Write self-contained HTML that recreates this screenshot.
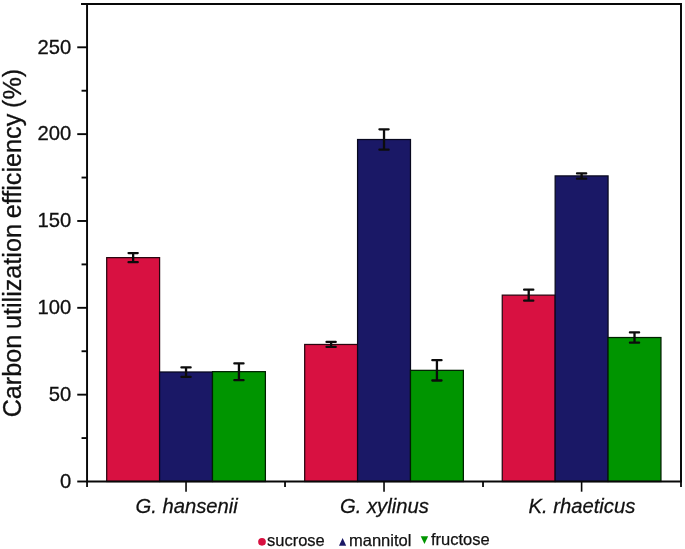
<!DOCTYPE html>
<html><head><meta charset="utf-8"><title>chart</title>
<style>
html,body{margin:0;padding:0;background:#fff;}
body{width:685px;height:549px;overflow:hidden;}
svg{display:block;}
svg text{filter:grayscale(1);}
text{font-family:"Liberation Sans",sans-serif;fill:#111;}
</style></head><body>
<svg width="685" height="549" viewBox="0 0 685 549">
<rect width="685" height="549" fill="#fff"/>

<rect x="106.69" y="257.63" width="52.90" height="223.87" fill="#D81141" stroke="#2a0610" stroke-width="1.25"/>
<rect x="159.59" y="371.99" width="52.90" height="109.51" fill="#1A1866" stroke="#08081e" stroke-width="1.25"/>
<rect x="212.49" y="371.65" width="52.90" height="109.85" fill="#009500" stroke="#002000" stroke-width="1.25"/>
<rect x="304.68" y="344.47" width="52.90" height="137.03" fill="#D81141" stroke="#2a0610" stroke-width="1.25"/>
<rect x="357.58" y="139.52" width="52.90" height="341.98" fill="#1A1866" stroke="#08081e" stroke-width="1.25"/>
<rect x="410.48" y="370.34" width="52.90" height="111.16" fill="#009500" stroke="#002000" stroke-width="1.25"/>
<rect x="502.26" y="295.14" width="52.90" height="186.36" fill="#D81141" stroke="#2a0610" stroke-width="1.25"/>
<rect x="555.16" y="175.91" width="52.90" height="305.59" fill="#1A1866" stroke="#08081e" stroke-width="1.25"/>
<rect x="608.06" y="337.52" width="52.90" height="143.98" fill="#009500" stroke="#002000" stroke-width="1.25"/>
<path d="M128.54 253.11H137.74M128.54 262.14H137.74M133.14 253.11V262.14" stroke="#0c0c0c" stroke-width="2.3" stroke-linecap="round" fill="none"/>
<path d="M181.44 367.44H190.64M181.44 376.89H190.64M186.04 367.44V376.89" stroke="#0c0c0c" stroke-width="2.3" stroke-linecap="round" fill="none"/>
<path d="M234.34 363.43H243.54M234.34 380.21H243.54M238.94 363.43V380.21" stroke="#0c0c0c" stroke-width="2.3" stroke-linecap="round" fill="none"/>
<path d="M326.53 341.97H335.73M326.53 346.97H335.73M331.13 341.97V346.97" stroke="#0c0c0c" stroke-width="2.3" stroke-linecap="round" fill="none"/>
<path d="M379.43 129.36H388.63M379.43 149.68H388.63M384.03 129.36V149.68" stroke="#0c0c0c" stroke-width="2.3" stroke-linecap="round" fill="none"/>
<path d="M432.33 360.18H441.53M432.33 380.51H441.53M436.93 360.18V380.51" stroke="#0c0c0c" stroke-width="2.3" stroke-linecap="round" fill="none"/>
<path d="M524.11 289.64H533.31M524.11 300.65H533.31M528.71 289.64V300.65" stroke="#0c0c0c" stroke-width="2.3" stroke-linecap="round" fill="none"/>
<path d="M577.01 173.43H586.21M577.01 178.64H586.21M581.61 173.43V178.64" stroke="#0c0c0c" stroke-width="2.3" stroke-linecap="round" fill="none"/>
<path d="M629.91 332.40H639.11M629.91 342.64H639.11M634.51 332.40V342.64" stroke="#0c0c0c" stroke-width="2.3" stroke-linecap="round" fill="none"/>
<path d="M87.05 4.05V481.5H681.0V4.05H81.05" fill="none" stroke="#080808" stroke-width="1.95" stroke-linejoin="miter"/>
<path d="M77.25 481.50H87.05" stroke="#080808" stroke-width="1.9"/>
<text transform="translate(71.2,487.80) scale(1,1.02)" font-size="20.2" text-anchor="end" stroke="#111" stroke-width="0.3">0</text>
<path d="M81.55 438.08H87.05" stroke="#080808" stroke-width="1.9"/>
<path d="M77.25 394.66H87.05" stroke="#080808" stroke-width="1.9"/>
<text transform="translate(71.2,400.96) scale(1,1.02)" font-size="20.2" text-anchor="end" stroke="#111" stroke-width="0.3">50</text>
<path d="M81.55 351.24H87.05" stroke="#080808" stroke-width="1.9"/>
<path d="M77.25 307.82H87.05" stroke="#080808" stroke-width="1.9"/>
<text transform="translate(71.2,314.12) scale(1,1.02)" font-size="20.2" text-anchor="end" stroke="#111" stroke-width="0.3">100</text>
<path d="M81.55 264.40H87.05" stroke="#080808" stroke-width="1.9"/>
<path d="M77.25 220.98H87.05" stroke="#080808" stroke-width="1.9"/>
<text transform="translate(71.2,227.28) scale(1,1.02)" font-size="20.2" text-anchor="end" stroke="#111" stroke-width="0.3">150</text>
<path d="M81.55 177.56H87.05" stroke="#080808" stroke-width="1.9"/>
<path d="M77.25 134.14H87.05" stroke="#080808" stroke-width="1.9"/>
<text transform="translate(71.2,140.44) scale(1,1.02)" font-size="20.2" text-anchor="end" stroke="#111" stroke-width="0.3">200</text>
<path d="M81.55 90.72H87.05" stroke="#080808" stroke-width="1.9"/>
<path d="M77.25 47.30H87.05" stroke="#080808" stroke-width="1.9"/>
<text transform="translate(71.2,53.60) scale(1,1.02)" font-size="20.2" text-anchor="end" stroke="#111" stroke-width="0.3">250</text>
<path d="M87.05 481.5V487.1" stroke="#080808" stroke-width="1.8"/>
<path d="M681.00 481.5V487.1" stroke="#080808" stroke-width="1.8"/>
<path d="M285.03 481.5V487.1" stroke="#080808" stroke-width="1.8"/>
<path d="M483.02 481.5V487.1" stroke="#080808" stroke-width="1.8"/>
<path d="M186.04 481.5V491.7" stroke="#080808" stroke-width="1.6"/>
<path d="M384.03 481.5V491.7" stroke="#080808" stroke-width="1.6"/>
<path d="M581.61 481.5V491.7" stroke="#080808" stroke-width="1.6"/>
<text transform="translate(186.64,513.4) scale(1,1.02)" font-size="20.25" font-style="italic" text-anchor="middle" stroke="#111" stroke-width="0.25">G. hansenii</text>
<text transform="translate(384.43,513.4) scale(1,1.02)" font-size="20.25" font-style="italic" text-anchor="middle" stroke="#111" stroke-width="0.25">G. xylinus</text>
<text transform="translate(581.91,513.4) scale(1,1.02)" font-size="20.25" font-style="italic" text-anchor="middle" stroke="#111" stroke-width="0.25">K. rhaeticus</text>
<text transform="translate(21.3,243.1) rotate(-90) scale(1,1.02)" font-size="25.2" word-spacing="-1.25" text-anchor="middle" stroke="#111" stroke-width="0.3">Carbon utilization efficiency (%)</text>
<circle cx="262.0" cy="541.8" r="3.85" fill="#D81141"/>
<text x="267.0" y="545.9" font-size="16.5" stroke="#111" stroke-width="0.25">sucrose</text>
<path d="M339.0 545.7L342.6 538.0L346.2 545.7Z" fill="#1A1866"/>
<text x="349.0" y="546.0" font-size="16.5" stroke="#111" stroke-width="0.25">mannitol</text>
<path d="M420.7 536.2L428.2 536.2L424.45 544.1Z" fill="#009500"/>
<text x="430.9" y="545.0" font-size="16.55" stroke="#111" stroke-width="0.25">fructose</text>
</svg></body></html>
